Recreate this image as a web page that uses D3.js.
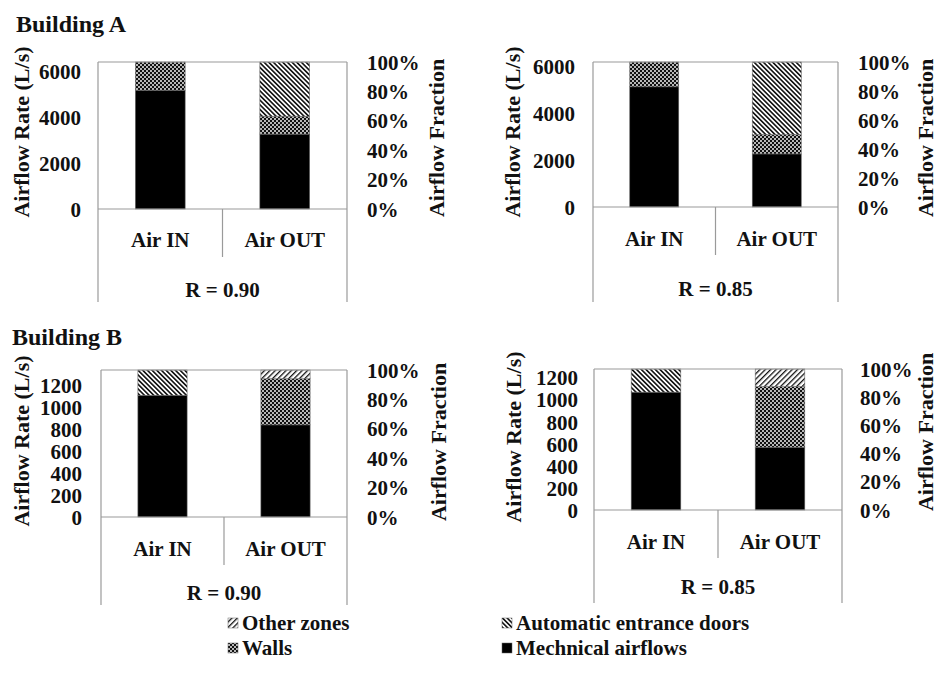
<!DOCTYPE html>
<html>
<head>
<meta charset="utf-8">
<script src="https://cdn.jsdelivr.net/npm/d3@7/dist/d3.min.js"></script>
<style>
  html, body { margin: 0; padding: 0; background: #fff; }
  svg text { font-family: "Liberation Serif", "Times New Roman", serif; font-weight: bold; fill: #111; }
</style>
</head>
<body>
<svg id="chart" width="939" height="686"></svg>
<script>
// Categories and series
const categories = ["Air IN", "Air OUT"];
const seriesKeys = ["mech", "walls", "doors", "other"];
const seriesNames = ["Mechnical airflows", "Walls", "Automatic entrance doors", "Other zones"];

// Airflow rates (L/s) per series, one value per category
const aR90Mech  = [5170, 3260];
const aR90Walls = [1230, 780];
const aR90Doors = [0, 2360];
const aR90Other = [0, 0];

const aR85Mech  = [5140, 2270];
const aR85Walls = [1060, 820];
const aR85Doors = [0, 3110];
const aR85Other = [0, 0];

const bR90Mech  = [1110, 840];
const bR90Walls = [0, 420];
const bR90Doors = [230, 0];
const bR90Other = [0, 80];

const bR85Mech  = [1070, 570];
const bR85Walls = [0, 550];
const bR85Doors = [210, 0];
const bR85Other = [0, 160];

// Tick labels
const ticksA = [0, 2000, 4000, 6000];
const ticksB = [0, 200, 400, 600, 800, 1000, 1200];
const pctTicks = [0, 0.2, 0.4, 0.6, 0.8, 1.0];
const buildingTitles = ["Building A", "Building B"];
const rLabels = ["R = 0.90", "R = 0.85"];

const svg = d3.select("#chart");
const defs = svg.append("defs");

// Fill patterns
function stripes(id, angle, period, width) {
  const p = defs.append("pattern").attr("id", id).attr("patternUnits", "userSpaceOnUse")
    .attr("width", period).attr("height", period)
    .attr("patternTransform", `rotate(${angle})`);
  p.append("rect").attr("width", period).attr("height", period).attr("fill", "#fff");
  p.append("rect").attr("width", width).attr("height", period).attr("fill", "#111");
}
stripes("pat-doors", -45, 3.3, 1.6);
stripes("pat-other", 45, 3.8, 1.3);
{
  const p = defs.append("pattern").attr("id", "pat-walls").attr("patternUnits", "userSpaceOnUse")
    .attr("width", 4).attr("height", 4);
  p.append("rect").attr("width", 4).attr("height", 4).attr("fill", "#111");
  p.append("circle").attr("cx", 1).attr("cy", 1).attr("r", 0.95).attr("fill", "#fff");
  p.append("circle").attr("cx", 3).attr("cy", 3).attr("r", 0.95).attr("fill", "#fff");
}
const fills = { mech: "#000", walls: "url(#pat-walls)", doors: "url(#pat-doors)", other: "url(#pat-other)" };

const frameColor = "#9a9a9a";

function rows(mech, walls, doors, other) {
  return categories.map((c, i) => ({ cat: c, mech: mech[i], walls: walls[i], doors: doors[i], other: other[i] }));
}

const panels = [
  { data: rows(aR90Mech, aR90Walls, aR90Doors, aR90Other), ticks: ticksA, r: rLabels[0],
    x0: 98, x1: 347, top: 62, base: 209, ext: 302, lblR: 81, lblL: 367,
    tx: 22, ty: 132, rtx: 437, rty: 138, catDy: 31, rDy: 81 },
  { data: rows(aR85Mech, aR85Walls, aR85Doors, aR85Other), ticks: ticksA, r: rLabels[1],
    x0: 593, x1: 838, top: 62, base: 207, ext: 302, lblR: 575, lblL: 858,
    tx: 513, ty: 132, rtx: 926, rty: 138, catDy: 32, rDy: 82 },
  { data: rows(bR90Mech, bR90Walls, bR90Doors, bR90Other), ticks: ticksB, r: rLabels[0],
    x0: 101, x1: 347, top: 370, base: 517, ext: 605, lblR: 82, lblL: 367,
    tx: 22, ty: 441, rtx: 439, rty: 442, catDy: 32, rDy: 76 },
  { data: rows(bR85Mech, bR85Walls, bR85Doors, bR85Other), ticks: ticksB, r: rLabels[1],
    x0: 594, x1: 842, top: 369, base: 510, ext: 603, lblR: 578, lblL: 860,
    tx: 514, ty: 437, rtx: 926, rty: 432, catDy: 32, rDy: 77 }
];

const stack = d3.stack().keys(seriesKeys);

panels.forEach(p => {
  const g = svg.append("g");
  const total = d3.max(p.data, d => d3.sum(seriesKeys, k => d[k]));
  const x = d3.scaleBand().domain(categories).range([p.x0, p.x1]).paddingInner(0.6).paddingOuter(0.3);
  const y = d3.scaleLinear().domain([0, total]).range([p.base, p.top]);
  const yPct = d3.scaleLinear().domain([0, 1]).range([p.base, p.top]);

  // stacked bars
  const layers = stack(p.data);
  layers.forEach(layer => {
    g.append("g").selectAll("rect")
      .data(layer.filter(d => d[1] > d[0]))
      .join("rect")
      .attr("x", d => x(d.data.cat))
      .attr("width", x.bandwidth())
      .attr("y", d => y(d[1]))
      .attr("height", d => y(d[0]) - y(d[1]))
      .attr("fill", fills[layer.key])
      .attr("stroke", "#666")
      .attr("stroke-width", 0.6);
  });

  // frame: top, sides extending below into category area, baseline
  const line = (x1, y1, x2, y2) => g.append("line")
    .attr("x1", x1).attr("y1", y1).attr("x2", x2).attr("y2", y2)
    .attr("stroke", frameColor).attr("stroke-width", 1.2);
  line(p.x0, p.top, p.x1, p.top);
  line(p.x0, p.top, p.x0, p.ext);
  line(p.x1, p.top, p.x1, p.ext);
  line(p.x0, p.base, p.x1, p.base);
  const mid = (x(categories[0]) + x.bandwidth() + x(categories[1])) / 2;
  line(mid, p.base, mid, p.base + 48);

  // left axis (airflow rate)
  const left = g.append("g").attr("transform", `translate(${p.lblR},0)`)
    .call(d3.axisLeft(y).tickValues(p.ticks).tickSize(0).tickPadding(0).tickFormat(d3.format("d")));
  left.select(".domain").remove();
  left.selectAll("text").attr("font-size", 21).attr("font-family", null).attr("fill", null).attr("dy", "0.34em");

  // right axis (airflow fraction)
  const right = g.append("g").attr("transform", `translate(${p.lblL},0)`)
    .call(d3.axisRight(yPct).tickValues(pctTicks).tickSize(0).tickPadding(0).tickFormat(d3.format(".0%")));
  right.select(".domain").remove();
  right.selectAll("text").attr("font-size", 21).attr("font-family", null).attr("fill", null).attr("dy", "0.34em");

  // category labels
  g.selectAll("text.cat").data(categories).join("text").attr("class", "cat")
    .attr("x", d => x(d) + x.bandwidth() / 2).attr("y", p.base + p.catDy)
    .attr("dy", "0.34em").attr("text-anchor", "middle").attr("font-size", 21).text(d => d);
  g.append("text").attr("x", (p.x0 + p.x1) / 2).attr("y", p.base + p.rDy)
    .attr("dy", "0.34em").attr("text-anchor", "middle").attr("font-size", 21).text(p.r);

  // axis titles
  g.append("text").attr("transform", `translate(${p.tx},${p.ty}) rotate(-90)`)
    .attr("dy", "0.34em").attr("text-anchor", "middle").attr("font-size", 22).text("Airflow Rate (L/s)");
  g.append("text").attr("transform", `translate(${p.rtx},${p.rty}) rotate(-90)`)
    .attr("dy", "0.34em").attr("text-anchor", "middle").attr("font-size", 22).text("Airflow Fraction");
});

// building titles
svg.append("text").attr("x", 16).attr("y", 32).attr("font-size", 24).text(buildingTitles[0]);
svg.append("text").attr("x", 12).attr("y", 345).attr("font-size", 24).text(buildingTitles[1]);

// legend
const legendItems = [
  { key: "other", x: 228, y: 623 },
  { key: "doors", x: 502, y: 623 },
  { key: "walls", x: 228, y: 648 },
  { key: "mech",  x: 502, y: 648 }
];
const lg = svg.append("g");
legendItems.forEach(it => {
  lg.append("rect").attr("x", it.x).attr("y", it.y - 5).attr("width", 10).attr("height", 10)
    .attr("fill", fills[it.key]).attr("stroke", "#666").attr("stroke-width", 0.5);
  lg.append("text").attr("x", it.x + 14).attr("y", it.y).attr("dy", "0.34em")
    .attr("font-size", 21).text(seriesNames[seriesKeys.indexOf(it.key)]);
});
</script>
</body>
</html>
